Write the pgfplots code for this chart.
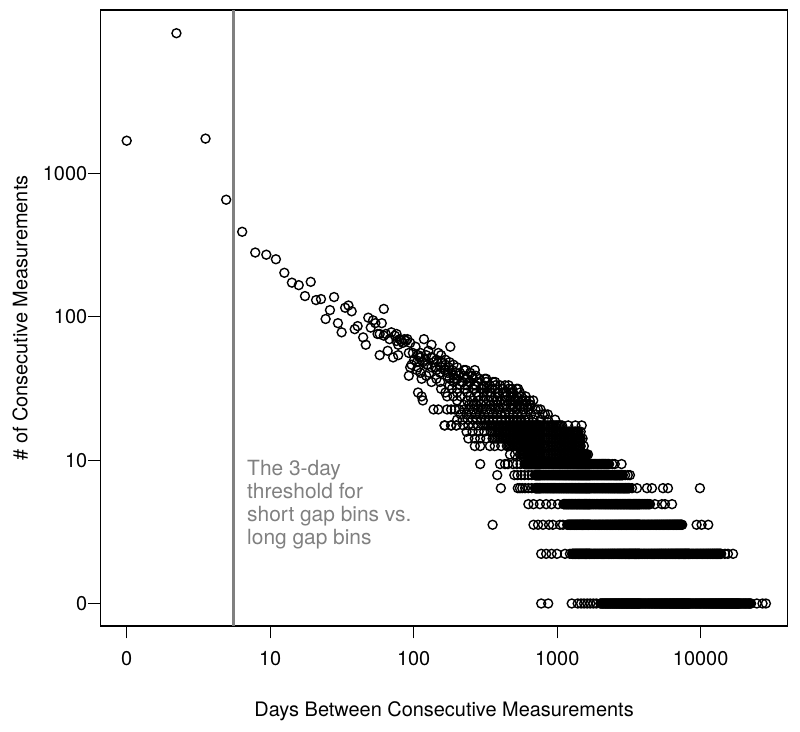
\documentclass[border=0pt]{standalone}
\usepackage{fontspec}
\setmainfont{TeX Gyre Heros}
\usepackage{pgfplots}
\pgfplotsset{compat=1.18}
\definecolor{lineg}{RGB}{128,128,128}
\newcommand{\lf}{\fontsize{20}{24}\selectfont}
\newcommand{\af}{\fontsize{21}{25}\selectfont}
\begin{document}
\begin{tikzpicture}
\path[use as bounding box] (0,0) rectangle (800bp,732bp);
\begin{axis}[
  at={(100.7bp,106bp)}, anchor=south west,
  scale only axis, width=686.8bp, height=616bp,
  xmode=log, ymode=log,
  xmin=0.696, xmax=10000, ymin=0.7305, ymax=3955,
  xtick={1,7.389056,54.59815,403.4288,2980.958},
  xticklabels={0,10,100,1000,10000},
  ytick={1,7.389056,54.59815,403.4288},
  yticklabels={0,10,100,1000},
  minor xtick={}, minor ytick={},
  xtick pos=lower, ytick pos=left,
  tick align=outside, major tick length=12.4bp,
  tick style={black, line width=1bp},
  axis line style={line width=1.1bp},
  clip mode=individual,
  /pgf/number format/assume math mode=true,
  tick label style={font=\lf},
  xticklabel style={yshift=-9bp},
  yticklabel style={inner sep=1bp},
  pt/.style={only marks, mark=o, mark size=4.5pt, black, mark options={line width=1.4bp, black}},
]
\draw[color=lineg, line width=3bp] (axis cs:4.44,0.7305) -- (axis cs:4.44,3955);
% early points
\addplot[pt] coordinates {(1,638)(2,2860)(3,657)(4,280)(5,179)(6,134)(7,130)(8,122)(9,101)(10,88)(11,85)(12,73)(13,89)(14,69)(15,70)(16,53)(17,60)(18,72)(19,50)(20,44)(21,62)(22,64)(23,59)(24,46)(25,48)(27,41)(28,37)(29,54)(30,47)(31,52)(32,50)(33,43)(34,32)(35,50)(36,61)(37,43)(38,34)(40,44)(41,31)(43,43)(44,32)(45,40)(46,39)(47,38)(48,40)(51,33)(52,27)(51,24)(34,43)(36,42)(39,40)(42,42)(43,39)(49,39)(50,40)(52,38)(44,37)};
\addplot[pt] coordinates {(53,28)(54,33)(57,29)(57,26)(58,19)(60,33)(61,23)(61,18)(62,17)(63,40)(64,30)(67,34)(68,25)(70,37)(72,29)(72,15)(77,15)(77,33)(79,25)(79,22)(84,12)(87,24)(87,18)(87,15)(91,36)(92,12)(92,15)(93,26)(93,20)(97,15)(99,12)
(56,36)(59,31)(66,28)(70,31)(74,27)(81,29)(84,26)(89,27)(96,23)(102,24)(108,22)(113,26)(118,22)(123,24)(127,21)(133,22)(142,20)(147,23)(153,19)(163,20)(170,22)(178,19)(188,20)(196,18)(205,21)(215,19)(222,17)(245,18)(262,17)(280,16)(298,15)(320,15)(340,14)};
% upper cloud
\addplot[pt] coordinates {(100,13)(108,13)(116,13)(124,13)(132,13)(140,13)(148,13)(156,13)(165,13)(175,13)(186,13)(197,13)(208,13)(219,13)(230,13)(243,13)(256,13)(270,13)(290,13)(320,13)(355,13)(392,13)
(105,14)(114,14)(122,14)(130,14)(137,14)(145,14)(155,14)(165,14)(174,14)(185,14)(195,14)(207,14)(219,14)(232,14)(246,14)(260,14)(280,14)(300,14)(330,14)(354,14)
(103,15)(110,15)(118,15)(126,15)(134,15)(142,15)(150,15)(160,15)(170,15)(180,15)(199,15)(215,15)(230,15)(250,15)(270,15)(309,15)
(110,16)(118,16)(126,16)(131,16)(140,16)(150,16)(160,16)(166,16)(175,16)(190,16)(200,16)(210,16)(220,16)(232,16)(240,16)(255,16)(265,16)(275,16)
(100,17)(115,17)(125,17)(135,17)(144,17)(155,17)(165,17)(174,17)(185,17)(195,17)(209,17)(215,17)(225,17)(235,17)(250,17)(260,17)(275,17)(289,17)
(95,18)(105,18)(120,18)(135,18)(145,18)(158,18)(170,18)(180,18)(195,18)(210,18)(229,18)(245,18)(260,18)
(85,19)(100,19)(115,19)(131,19)(145,19)(160,19)(175,19)(190,19)(199,19)(210,19)(218,19)(240,19)
(80,20)(100,20)(111,20)(125,20)(140,20)(150,20)(170,20)(190,20)(205,20)(215,20)(229,20)(234,20)
(90,21)(104,21)(115,21)(130,21)(145,21)(158,21)(170,21)(182,21)(195,21)
(70,22)(95,22)(108,22)(120,22)(150,22)(165,22)
(75,23)(90,23)(100,23)(115,23)(125,23)(137,23)(150,23)
(65,24)(95,24)(110,24)(130,24)
(60,25)(88,25)(98,25)(104,25)(120,25)
(75,26)(85,26)(110,26)(128,26)
(58,27)(70,27)(80,27)(100,27)
(66,28)(85,28)(95,28)
(62,29)(80,29)(90,29)
(55,30)(75,30)(85,30)
(60,31)(70,31)
(58,32)(65,32)(80,32)};
% rows 8-12
\addplot[pt] coordinates {(84,12)(92,12)(99,12)(109,12)(117,12)(125,12)(134,12)(144,12)(148,12)(152,12)(156,12)(160,12)(164,12)(168,12)(172,12)(176,12)(180,12)(184,12)(188,12)(192,12)(196,12)(200,12)(204,12)(208,12)(212,12)(216,12)(220,12)(224,12)(228,12)(232,12)(236,12)(240,12)(244,12)(248,12)(252,12)(256,12)(260,12)(264,12)(268,12)(272,12)(276,12)(280,12)(284,12)(288,12)(292,12)(296,12)(300,12)(304,12)(308,12)(312,12)(316,12)(320,12)(328,12)(336,12)(344,12)(352,12)(360,12)(368,12)(376,12)(384,12)(392,12)(400,12)(408,12)(416,12)(424,12)(432,12)(470,12)(520,12)(568,12)};
\addplot[pt] coordinates {(114,11)(124,11)(135,11)(146,11)(160,11)(164,11)(168,11)(172,11)(176,11)(180,11)(184,11)(188,11)(192,11)(196,11)(200,11)(204,11)(208,11)(212,11)(216,11)(220,11)(224,11)(228,11)(232,11)(236,11)(240,11)(244,11)(248,11)(252,11)(256,11)(260,11)(264,11)(268,11)(272,11)(276,11)(280,11)(284,11)(288,11)(292,11)(296,11)(300,11)(304,11)(308,11)(312,11)(316,11)(320,11)(328,11)(336,11)(344,11)(352,11)(360,11)(368,11)(376,11)(384,11)(392,11)(400,11)(408,11)(416,11)(424,11)(432,11)(440,11)(448,11)(456,11)(464,11)(472,11)(480,11)(488,11)(496,11)(504,11)(512,11)(520,11)(528,11)(536,11)(544,11)(560,11)};
\addplot[pt] coordinates {(117,10)(128,10)(138,10)(150,10)(164,10)(168,10)(172,10)(176,10)(180,10)(184,10)(188,10)(192,10)(196,10)(200,10)(204,10)(208,10)(212,10)(216,10)(220,10)(224,10)(228,10)(232,10)(236,10)(240,10)(244,10)(248,10)(252,10)(256,10)(260,10)(264,10)(268,10)(272,10)(276,10)(280,10)(284,10)(288,10)(292,10)(296,10)(300,10)(304,10)(308,10)(312,10)(316,10)(320,10)(328,10)(336,10)(344,10)(352,10)(360,10)(368,10)(376,10)(384,10)(392,10)(400,10)(408,10)(416,10)(424,10)(432,10)(440,10)(448,10)(456,10)(464,10)(472,10)(480,10)(488,10)(496,10)(504,10)(512,10)(520,10)(528,10)(536,10)(544,10)(552,10)(560,10)(575,10)};
\addplot[pt] coordinates {(128,9)(138,9)(158,9)(169,9)(185,9)(200,9)(204,9)(208,9)(212,9)(216,9)(220,9)(224,9)(228,9)(232,9)(236,9)(240,9)(244,9)(248,9)(252,9)(256,9)(260,9)(264,9)(268,9)(272,9)(276,9)(280,9)(284,9)(288,9)(292,9)(296,9)(300,9)(304,9)(308,9)(312,9)(316,9)(320,9)(328,9)(336,9)(344,9)(352,9)(360,9)(368,9)(376,9)(384,9)(392,9)(400,9)(408,9)(416,9)(424,9)(432,9)(440,9)(448,9)(456,9)(464,9)(472,9)(480,9)(488,9)(496,9)(504,9)(512,9)(520,9)(528,9)(536,9)(544,9)(552,9)(560,9)(585,9)};
\addplot[pt] coordinates {(209,8)(224,8)(240,8)(244,8)(248,8)(252,8)(256,8)(260,8)(264,8)(268,8)(272,8)(276,8)(280,8)(284,8)(288,8)(292,8)(296,8)(300,8)(304,8)(308,8)(312,8)(316,8)(320,8)(328,8)(336,8)(344,8)(352,8)(360,8)(368,8)(376,8)(384,8)(392,8)(400,8)(408,8)(416,8)(424,8)(432,8)(440,8)(448,8)(456,8)(464,8)(472,8)(480,8)(488,8)(496,8)(504,8)(512,8)(520,8)(528,8)(536,8)(544,8)(552,8)(560,8)(568,8)(576,8)(584,8)(592,8)(600,8)(608,8)(620,8)};
% row 7
\addplot[pt] coordinates {(138,7)(182,7)(195,7)(203,7)(218,7)(230,7)(242,7)(256,7)(258,7)(260,7)(262,7)(264,7)(266,7)(268,7)(270,7)(272,7)(274,7)(276,7)(278,7)(280,7)(282,7)(284,7)(286,7)(288,7)(290,7)(292,7)(294,7)(296,7)(298,7)(300,7)(302,7)(304,7)(306,7)(308,7)(310,7)(312,7)(314,7)(316,7)(318,7)
(320,7)(324,7)(328,7)(332,7)(336,7)(340,7)(344,7)(348,7)(352,7)(356,7)(360,7)(364,7)(368,7)(372,7)(376,7)(380,7)(384,7)(388,7)(392,7)(396,7)(400,7)(404,7)(408,7)(412,7)(416,7)(420,7)(424,7)(428,7)(432,7)(436,7)(440,7)(444,7)(448,7)(452,7)(456,7)(460,7)(464,7)(468,7)(472,7)(476,7)(480,7)(484,7)(488,7)(492,7)(496,7)(500,7)(504,7)(508,7)(512,7)(516,7)(520,7)(524,7)(528,7)(532,7)(536,7)(540,7)(544,7)(548,7)(552,7)(556,7)(560,7)(564,7)(568,7)(572,7)(576,7)(580,7)(584,7)(588,7)(592,7)(596,7)(600,7)(604,7)(608,7)(612,7)(616,7)(620,7)(624,7)(628,7)(632,7)(636,7)
(640,7)(648,7)(656,7)(664,7)(672,7)(680,7)(688,7)(696,7)(704,7)(712,7)(720,7)(728,7)(736,7)(744,7)(752,7)(760,7)(768,7)(776,7)(784,7)(792,7)(800,7)(808,7)(816,7)(824,7)(832,7)(870,7)(900,7)(990,7)};
% row 6
\addplot[pt] coordinates {(175,6)(222,6)(232,6)(244,6)(256,6)(270,6)(283,6)(296,6)(298,6)(300,6)(302,6)(304,6)(306,6)(308,6)(310,6)(312,6)(314,6)(316,6)(318,6)
(320,6)(324,6)(328,6)(332,6)(336,6)(340,6)(344,6)(348,6)(352,6)(356,6)(360,6)(364,6)(368,6)(372,6)(376,6)(380,6)(384,6)(388,6)(392,6)(396,6)(400,6)(404,6)(408,6)(412,6)(416,6)(420,6)(424,6)(428,6)(432,6)(436,6)(440,6)(444,6)(448,6)(452,6)(456,6)(460,6)(464,6)(468,6)(472,6)(476,6)(480,6)(484,6)(488,6)(492,6)(496,6)(500,6)(504,6)(508,6)(512,6)(516,6)(520,6)(524,6)(528,6)(532,6)(536,6)(540,6)(544,6)(548,6)(552,6)(556,6)(560,6)(564,6)(568,6)(572,6)(576,6)(580,6)(584,6)(588,6)(592,6)(596,6)(600,6)(604,6)(608,6)(612,6)(616,6)(620,6)(624,6)(628,6)(632,6)(636,6)
(640,6)(648,6)(656,6)(664,6)(672,6)(680,6)(688,6)(696,6)(704,6)(712,6)(720,6)(728,6)(736,6)(744,6)(752,6)(760,6)(768,6)(776,6)(784,6)(792,6)(800,6)(808,6)(816,6)(824,6)(832,6)(840,6)(848,6)(856,6)(864,6)(872,6)(880,6)(888,6)(896,6)(904,6)(912,6)(920,6)(928,6)(936,6)(944,6)(952,6)(960,6)(968,6)(976,6)(984,6)(992,6)(1000,6)(1008,6)(1040,6)(1080,6)(1112,6)};
% row 5
\addplot[pt] coordinates {(184,5)(233,5)(240,5)(248,5)(258,5)(270,5)(283,5)(296,5)(298,5)(300,5)(302,5)(304,5)(306,5)(308,5)(310,5)(312,5)(314,5)(316,5)(318,5)
(320,5)(324,5)(328,5)(332,5)(336,5)(340,5)(344,5)(348,5)(352,5)(356,5)(360,5)(364,5)(368,5)(372,5)(376,5)(380,5)(384,5)(388,5)(392,5)(396,5)(400,5)(404,5)(408,5)(412,5)(416,5)(420,5)(424,5)(428,5)(432,5)(436,5)(440,5)(444,5)(448,5)(452,5)(456,5)(460,5)(464,5)(468,5)(472,5)(476,5)(480,5)(484,5)(488,5)(492,5)(496,5)(500,5)(504,5)(508,5)(512,5)(516,5)(520,5)(524,5)(528,5)(532,5)(536,5)(540,5)(544,5)(548,5)(552,5)(556,5)(560,5)(564,5)(568,5)(572,5)(576,5)(580,5)(584,5)(588,5)(592,5)(596,5)(600,5)(604,5)(608,5)(612,5)(616,5)(620,5)(624,5)(628,5)(632,5)(636,5)
(640,5)(648,5)(656,5)(664,5)(672,5)(680,5)(688,5)(696,5)(704,5)(712,5)(720,5)(728,5)(736,5)(744,5)(752,5)(760,5)(768,5)(776,5)(784,5)(792,5)(800,5)(808,5)(816,5)(824,5)(832,5)(840,5)(848,5)(856,5)(864,5)(872,5)(880,5)(888,5)(896,5)(904,5)(912,5)(920,5)(928,5)(936,5)(944,5)(952,5)(960,5)(968,5)(976,5)(984,5)(992,5)(1000,5)(1008,5)(1016,5)(1024,5)(1032,5)(1040,5)(1048,5)(1056,5)(1064,5)(1072,5)(1080,5)(1088,5)(1096,5)(1104,5)(1145,5)(1227,5)(1410,5)(1512,5)(1763,5)(1890,5)(2950,5)};
% row 4
\addplot[pt] coordinates {(270,4)(290,4)(317,4)(346,4)(373,4)(408,4)(440,4)(444,4)(448,4)(452,4)(456,4)(460,4)(464,4)(468,4)(472,4)(476,4)(480,4)(484,4)(488,4)(492,4)(496,4)(500,4)(504,4)(508,4)(512,4)(516,4)(520,4)(524,4)(528,4)(532,4)(536,4)(540,4)(544,4)(548,4)(552,4)(556,4)(560,4)(564,4)(568,4)(572,4)(576,4)(580,4)(584,4)(588,4)(592,4)(596,4)(600,4)(604,4)(608,4)(612,4)(616,4)(620,4)(624,4)(628,4)(632,4)(636,4)
(640,4)(648,4)(656,4)(664,4)(672,4)(680,4)(688,4)(696,4)(704,4)(712,4)(720,4)(728,4)(736,4)(744,4)(752,4)(760,4)(768,4)(776,4)(784,4)(792,4)(800,4)(808,4)(816,4)(824,4)(832,4)(840,4)(848,4)(856,4)(864,4)(872,4)(880,4)(888,4)(896,4)(904,4)(912,4)(920,4)(928,4)(936,4)(944,4)(952,4)(960,4)(968,4)(976,4)(984,4)(992,4)(1000,4)(1008,4)(1016,4)(1024,4)(1032,4)(1040,4)(1048,4)(1056,4)(1064,4)(1072,4)(1080,4)(1088,4)(1096,4)(1104,4)(1112,4)(1120,4)(1128,4)(1136,4)(1144,4)(1152,4)(1160,4)(1168,4)(1176,4)(1184,4)(1192,4)(1200,4)(1208,4)(1216,4)(1224,4)(1232,4)(1240,4)(1248,4)(1256,4)(1264,4)(1272,4)
(1280,4)(1296,4)(1312,4)(1328,4)(1344,4)(1360,4)(1376,4)(1392,4)(1408,4)(1424,4)(1440,4)(1456,4)(1472,4)(1576,4)(1737,4)(1813,4)(2000,4)};
% row 3
\addplot[pt] coordinates {(164,3)(290,3)(309,3)(331,3)(360,3)(380,3)(419,3)(437,3)(464,3)(468,3)(472,3)(476,3)(480,3)(484,3)(488,3)(492,3)(496,3)(500,3)(504,3)(508,3)(512,3)(516,3)(520,3)(524,3)(528,3)(532,3)(536,3)(540,3)(544,3)(548,3)(552,3)(556,3)(560,3)(564,3)(568,3)(572,3)(576,3)(580,3)(584,3)(588,3)(592,3)(596,3)(600,3)(604,3)(608,3)(612,3)(616,3)(620,3)(624,3)(628,3)(632,3)(636,3)
(640,3)(648,3)(656,3)(664,3)(672,3)(680,3)(688,3)(696,3)(704,3)(712,3)(720,3)(728,3)(736,3)(744,3)(752,3)(760,3)(768,3)(776,3)(784,3)(792,3)(800,3)(808,3)(816,3)(824,3)(832,3)(840,3)(848,3)(856,3)(864,3)(872,3)(880,3)(888,3)(896,3)(904,3)(912,3)(920,3)(928,3)(936,3)(944,3)(952,3)(960,3)(968,3)(976,3)(984,3)(992,3)(1000,3)(1008,3)(1016,3)(1024,3)(1032,3)(1040,3)(1048,3)(1056,3)(1064,3)(1072,3)(1080,3)(1088,3)(1096,3)(1104,3)(1112,3)(1120,3)(1128,3)(1136,3)(1144,3)(1152,3)(1160,3)(1168,3)(1176,3)(1184,3)(1192,3)(1200,3)(1208,3)(1216,3)(1224,3)(1232,3)(1240,3)(1248,3)(1256,3)(1264,3)(1272,3)
(1280,3)(1296,3)(1312,3)(1328,3)(1344,3)(1360,3)(1376,3)(1392,3)(1408,3)(1424,3)(1440,3)(1456,3)(1472,3)(1488,3)(1504,3)(1520,3)(1536,3)(1552,3)(1568,3)(1584,3)(1600,3)(1616,3)(1632,3)(1648,3)(1664,3)(1680,3)(1696,3)(1712,3)(1728,3)(1744,3)(1760,3)(1776,3)(1792,3)(1808,3)(1824,3)(1840,3)(1856,3)(1872,3)(1888,3)(1904,3)(1920,3)(1936,3)(1952,3)(1968,3)(1984,3)(2000,3)(2016,3)(2032,3)(2048,3)(2064,3)(2080,3)(2096,3)(2112,3)(2128,3)(2144,3)(2160,3)(2176,3)(2192,3)(2208,3)(2224,3)(2240,3)(2256,3)(2272,3)(2288,3)(2304,3)(2817,3)(3020,3)(3313,3)};
% row 2
\addplot[pt] coordinates {(323,2)(346,2)(373,2)(402,2)(450,2)(482,2)(496,2)(500,2)(504,2)(508,2)(512,2)(516,2)(520,2)(524,2)(528,2)(532,2)(536,2)(540,2)(544,2)(548,2)(552,2)(556,2)(560,2)(564,2)(568,2)(572,2)(576,2)(580,2)(584,2)(588,2)(592,2)(596,2)(600,2)(604,2)(608,2)(612,2)(616,2)(620,2)(624,2)(628,2)(632,2)(636,2)
(640,2)(648,2)(656,2)(664,2)(672,2)(680,2)(688,2)(696,2)(704,2)(712,2)(720,2)(728,2)(736,2)(744,2)(752,2)(760,2)(768,2)(776,2)(784,2)(792,2)(800,2)(808,2)(816,2)(824,2)(832,2)(840,2)(848,2)(856,2)(864,2)(872,2)(880,2)(888,2)(896,2)(904,2)(912,2)(920,2)(928,2)(936,2)(944,2)(952,2)(960,2)(968,2)(976,2)(984,2)(992,2)(1000,2)(1008,2)(1016,2)(1024,2)(1032,2)(1040,2)(1048,2)(1056,2)(1064,2)(1072,2)(1080,2)(1088,2)(1096,2)(1104,2)(1112,2)(1120,2)(1128,2)(1136,2)(1144,2)(1152,2)(1160,2)(1168,2)(1176,2)(1184,2)(1192,2)(1200,2)(1208,2)(1216,2)(1224,2)(1232,2)(1240,2)(1248,2)(1256,2)(1264,2)(1272,2)
(1280,2)(1296,2)(1312,2)(1328,2)(1344,2)(1360,2)(1376,2)(1392,2)(1408,2)(1424,2)(1440,2)(1456,2)(1472,2)(1488,2)(1504,2)(1520,2)(1536,2)(1552,2)(1568,2)(1584,2)(1600,2)(1616,2)(1632,2)(1648,2)(1664,2)(1680,2)(1696,2)(1712,2)(1728,2)(1744,2)(1760,2)(1776,2)(1792,2)(1808,2)(1824,2)(1840,2)(1856,2)(1872,2)(1888,2)(1904,2)(1920,2)(1936,2)(1952,2)(1968,2)(1984,2)(2000,2)(2016,2)(2032,2)(2048,2)(2064,2)(2080,2)(2096,2)(2112,2)(2128,2)(2144,2)(2160,2)(2176,2)(2192,2)(2208,2)(2224,2)(2240,2)(2256,2)(2272,2)(2288,2)(2304,2)(2320,2)(2336,2)(2352,2)(2368,2)(2384,2)(2400,2)(2416,2)(2432,2)(2448,2)(2464,2)(2480,2)(2496,2)(2512,2)(2528,2)(2544,2)
(2560,2)(2592,2)(2624,2)(2656,2)(2688,2)(2720,2)(2752,2)(2784,2)(2816,2)(2848,2)(2880,2)(2912,2)(2944,2)(2976,2)(3008,2)(3040,2)(3072,2)(3104,2)(3136,2)(3168,2)(3200,2)(3232,2)(3264,2)(3296,2)(3328,2)(3360,2)(3392,2)(3424,2)(3456,2)(3488,2)(3520,2)(3552,2)(3584,2)(3616,2)(3648,2)(3680,2)(3712,2)(3744,2)(3776,2)(3808,2)(3840,2)(3872,2)(3904,2)(3936,2)(3968,2)(4180,2)(4360,2)(4680,2)};
% row 1
\addplot[pt] coordinates {(323,1)(356,1)(494,1)(537,1)(563,1)(587,1)(614,1)(640,1)(668,1)(697,1)(736,1)(744,1)(752,1)(760,1)(768,1)(776,1)(784,1)(792,1)(800,1)(808,1)(816,1)(824,1)(832,1)(840,1)(848,1)(856,1)(864,1)(872,1)(880,1)(888,1)(896,1)(904,1)(912,1)(920,1)(928,1)(936,1)(944,1)(952,1)(960,1)(968,1)(976,1)(984,1)(992,1)(1000,1)(1008,1)(1016,1)(1024,1)(1032,1)(1040,1)(1048,1)(1056,1)(1064,1)(1072,1)(1080,1)(1088,1)(1096,1)(1104,1)(1112,1)(1120,1)(1128,1)(1136,1)(1144,1)(1152,1)(1160,1)(1168,1)(1176,1)(1184,1)(1192,1)(1200,1)(1208,1)(1216,1)(1224,1)(1232,1)(1240,1)(1248,1)(1256,1)(1264,1)(1272,1)
(1280,1)(1296,1)(1312,1)(1328,1)(1344,1)(1360,1)(1376,1)(1392,1)(1408,1)(1424,1)(1440,1)(1456,1)(1472,1)(1488,1)(1504,1)(1520,1)(1536,1)(1552,1)(1568,1)(1584,1)(1600,1)(1616,1)(1632,1)(1648,1)(1664,1)(1680,1)(1696,1)(1712,1)(1728,1)(1744,1)(1760,1)(1776,1)(1792,1)(1808,1)(1824,1)(1840,1)(1856,1)(1872,1)(1888,1)(1904,1)(1920,1)(1936,1)(1952,1)(1968,1)(1984,1)(2000,1)(2016,1)(2032,1)(2048,1)(2064,1)(2080,1)(2096,1)(2112,1)(2128,1)(2144,1)(2160,1)(2176,1)(2192,1)(2208,1)(2224,1)(2240,1)(2256,1)(2272,1)(2288,1)(2304,1)(2320,1)(2336,1)(2352,1)(2368,1)(2384,1)(2400,1)(2416,1)(2432,1)(2448,1)(2464,1)(2480,1)(2496,1)(2512,1)(2528,1)(2544,1)
(2560,1)(2592,1)(2624,1)(2656,1)(2688,1)(2720,1)(2752,1)(2784,1)(2816,1)(2848,1)(2880,1)(2912,1)(2944,1)(2976,1)(3008,1)(3040,1)(3072,1)(3104,1)(3136,1)(3168,1)(3200,1)(3232,1)(3264,1)(3296,1)(3328,1)(3360,1)(3392,1)(3424,1)(3456,1)(3488,1)(3520,1)(3552,1)(3584,1)(3616,1)(3648,1)(3680,1)(3712,1)(3744,1)(3776,1)(3808,1)(3840,1)(3872,1)(3904,1)(3936,1)(3968,1)(4000,1)(4032,1)(4064,1)(4096,1)(4128,1)(4160,1)(4192,1)(4224,1)(4256,1)(4288,1)(4320,1)(4352,1)(4384,1)(4416,1)(4448,1)(4480,1)(4512,1)(4544,1)(4576,1)(4608,1)(4640,1)(4672,1)(4704,1)(4736,1)(4768,1)(4800,1)(4832,1)(4864,1)(4896,1)(4928,1)(4960,1)(4992,1)(5024,1)(5056,1)(5088,1)
(5120,1)(5184,1)(5248,1)(5312,1)(5376,1)(5440,1)(5504,1)(5568,1)(5632,1)(5696,1)(5760,1)(5824,1)(5888,1)(5952,1)(6016,1)(6520,1)(7060,1)(7400,1)};
% annotation
\node[anchor=base west, inner sep=0, text=lineg, font=\af] at (axis cs:5.35,5.927) {The 3-day};
\node[anchor=base west, inner sep=0, text=lineg, font=\af] at (axis cs:5.35,4.300) {threshold for};
\node[anchor=base west, inner sep=0, text=lineg, font=\af] at (axis cs:5.35,3.119) {short gap bins vs.};
\node[anchor=base west, inner sep=0, text=lineg, font=\af] at (axis cs:5.35,2.263) {long gap bins};
\node[anchor=base, inner sep=0, font=\lf] at (axis description cs:0.5,-0.1477) {Days Between Consecutive Measurements};
\node[anchor=base, rotate=90, inner sep=0, font=\lf] at (axis description cs:-0.1066,0.5) {\# of Consecutive Measurements};
\end{axis}
\end{tikzpicture}
\end{document}
